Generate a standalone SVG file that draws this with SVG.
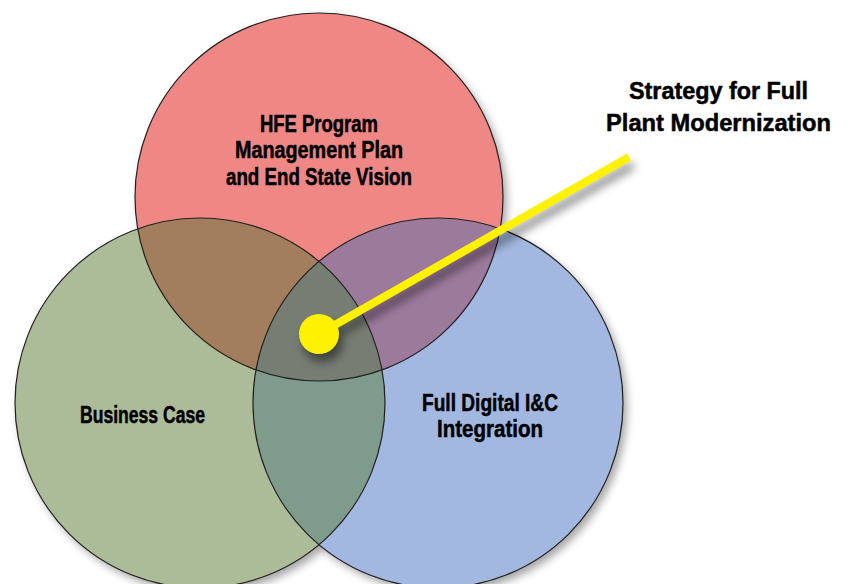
<svg xmlns="http://www.w3.org/2000/svg" width="848" height="584" viewBox="0 0 848 584">
<defs>
<style>
.lbl{font-family:"Liberation Sans",Arial,sans-serif;font-weight:bold;font-size:23px;fill:#000;stroke:#000;stroke-width:0.5;text-anchor:middle}
.ttl{font-size:24px}
.edge{fill:none;stroke:#231F20;stroke-width:1.2}
</style>
<clipPath id="cTop"><circle cx="319" cy="197" r="184"/></clipPath>
<clipPath id="cLeft"><circle cx="200" cy="403" r="185"/></clipPath>
<clipPath id="cRight"><circle cx="438" cy="403" r="185"/></clipPath>
<filter id="sh" x="-20%" y="-20%" width="140%" height="140%">
<feGaussianBlur stdDeviation="4"/>
<feOffset dx="4" dy="5"/>
</filter>
<filter id="sh2" x="-30%" y="-30%" width="160%" height="160%">
<feGaussianBlur stdDeviation="5"/>
<feOffset dx="4" dy="8"/>
</filter>
</defs>
<rect width="848" height="584" fill="#fff"/>
<g id="shadow" filter="url(#sh)" fill="#000" opacity="0.35">
<circle cx="319" cy="197" r="184"/>
<circle cx="200" cy="403" r="185"/>
<circle cx="438" cy="403" r="185"/>
</g>
<g id="hfe">
<circle cx="319" cy="197" r="184" fill="#EF8784"/>
</g>
<g id="business">
<circle cx="200" cy="403" r="185" fill="#ADBC98"/>
</g>
<g id="digital">
<circle cx="438" cy="403" r="185" fill="#A3B8E0"/>
</g>
<g id="overlaps">
<circle cx="200" cy="403" r="185" fill="#A27E5D" clip-path="url(#cTop)"/>
<circle cx="438" cy="403" r="185" fill="#9C7A9C" clip-path="url(#cTop)"/>
<circle cx="438" cy="403" r="185" fill="#7E9B8B" clip-path="url(#cLeft)"/>
<g clip-path="url(#cTop)"><circle cx="438" cy="403" r="185" fill="#767D73" clip-path="url(#cLeft)"/></g>
</g>
<g id="edges">
<circle class="edge" cx="319" cy="197" r="184"/>
<circle class="edge" cx="200" cy="403" r="185"/>
<circle class="edge" cx="438" cy="403" r="185"/>
</g>
<g id="connectors">
<g filter="url(#sh2)" opacity="0.45">
<line x1="319" y1="334" x2="629" y2="157" stroke="#000" stroke-width="8"/>
<circle cx="319" cy="334" r="20" fill="#000"/>
</g>
<line x1="319" y1="334" x2="629" y2="157" stroke="#FFF200" stroke-width="8"/>
<circle cx="319" cy="334" r="20" fill="#FFF200"/>
</g>
<g id="labels">
<text class="lbl" x="319" y="132" textLength="118" lengthAdjust="spacingAndGlyphs">HFE Program</text>
<text class="lbl" x="319" y="158" textLength="168" lengthAdjust="spacingAndGlyphs">Management Plan</text>
<text class="lbl" x="319" y="185" textLength="186" lengthAdjust="spacingAndGlyphs">and End State Vision</text>
<text class="lbl" x="142.5" y="423" textLength="125" lengthAdjust="spacingAndGlyphs">Business Case</text>
<text class="lbl" x="490" y="411" textLength="136" lengthAdjust="spacingAndGlyphs">Full Digital I&amp;C</text>
<text class="lbl" x="490" y="437" textLength="106" lengthAdjust="spacingAndGlyphs">Integration</text>
<text class="lbl ttl" x="718.5" y="99" textLength="179" lengthAdjust="spacingAndGlyphs">Strategy for Full</text>
<text class="lbl ttl" x="718.5" y="131" textLength="225" lengthAdjust="spacingAndGlyphs">Plant Modernization</text>
</g>
</svg>
